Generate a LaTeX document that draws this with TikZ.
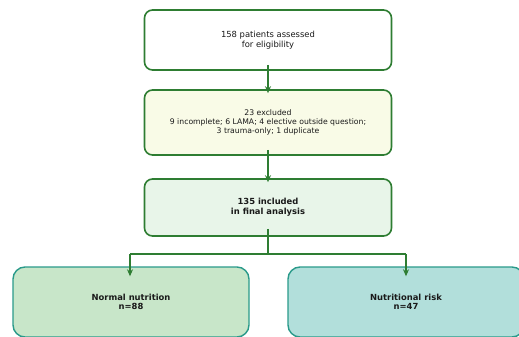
\documentclass[tikz,border=0pt]{standalone}
\usepackage{fontspec}
\setmainfont{DejaVu Sans}
\usetikzlibrary{arrows.meta}
\definecolor{dgreen}{HTML}{2E7D32}
\definecolor{teal2}{HTML}{2A9A8A}
\definecolor{txt}{HTML}{1A1A1A}
\definecolor{f1}{HTML}{FFFFFF}
\definecolor{f2}{HTML}{F9FBE7}
\definecolor{f3}{HTML}{E8F5E9}
\definecolor{f4}{HTML}{C8E6C9}
\definecolor{f5}{HTML}{B2DFDB}
\begin{document}
\begin{tikzpicture}[x=1pt,y=-1pt,
  box/.style={draw=dgreen,line width=1.6pt,rounded corners=8pt,minimum width=247pt,align=center,text=txt,font=\fontsize{8.4}{9.6}\selectfont,inner sep=0pt},
  gbox/.style={draw=teal2,line width=1.4pt,rounded corners=12pt,align=center,text=txt,font=\fontsize{8.4}{9.6}\selectfont\bfseries,inner sep=0pt},
  arr/.style={draw=dgreen,line width=1.4pt,-{Stealth[length=7pt,width=6pt]}},
  ln/.style={draw=dgreen,line width=1.4pt}]
\useasboundingbox (0,0) rectangle (519,337);
\clip (0,0) rectangle (519,337);
\node[box,fill=f1,minimum height=60pt] (b1) at (268,40) {158 patients assessed\\for eligibility};
\node[box,fill=f2,minimum height=65pt,font=\fontsize{7.7}{9}\selectfont] (b2) at (268,122.5) {23 excluded\\9 incomplete; 6 LAMA; 4 elective outside question;\\3 trauma-only; 1 duplicate};
\node[box,fill=f3,minimum height=57pt,font=\fontsize{8.4}{9.6}\selectfont\bfseries] (b3) at (268,207.5) {135 included\\in final analysis};
\node[gbox,fill=f4,minimum width=236pt,minimum height=70pt] (b4) at (131,302) {Normal nutrition\\n=88};
\node[gbox,fill=f5,minimum width=236pt,minimum height=70pt] (b5) at (406,302) {Nutritional risk\\n=47};
\coordinate (j) at (268,254);
\coordinate (jl) at (130,254);
\coordinate (jr) at (406,254);
\draw[arr] ([yshift=6pt]b1.south) -- ([yshift=-4pt]b2.north);
\draw[arr] ([yshift=6pt]b2.south) -- ([yshift=-4pt]b3.north);
\draw[ln] ([yshift=8pt]b3.south) -- (j);
\draw[ln] (jl) -- (jr);
\draw[arr] (jl) -- ([yshift=-10pt]b4.north -| jl);
\draw[arr] (jr) -- ([yshift=-10pt]b5.north -| jr);
\end{tikzpicture}
\end{document}
